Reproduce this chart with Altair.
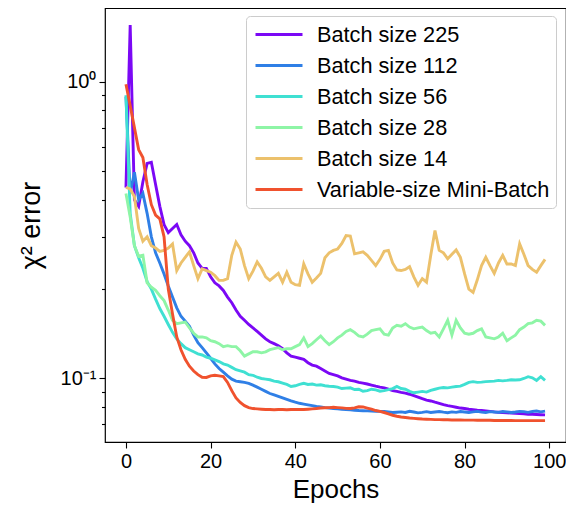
import altair as alt
import pandas as pd

series_names = ["Batch size 225", "Batch size 112", "Batch size 56",
                "Batch size 28", "Batch size 14", "Variable-size Mini-Batch"]
series_colors = ["#7b08f5", "#2f7fe6", "#3fe0d2", "#8ef5a6", "#ecc16c", "#f0522e"]

bs225 = [0.44, 1.55, 0.40, 0.38, 0.46, 0.53, 0.535, 0.45, 0.38, 0.33,
         0.31, 0.32, 0.33, 0.305, 0.29, 0.28, 0.265, 0.245, 0.235, 0.235,
         0.22, 0.21, 0.205, 0.198, 0.188, 0.18, 0.17, 0.162, 0.157, 0.152,
         0.148, 0.144, 0.14, 0.136, 0.133, 0.131, 0.129, 0.126, 0.122, 0.119,
         0.118, 0.117, 0.116, 0.113, 0.111, 0.110, 0.108, 0.106, 0.104, 0.103,
         0.102, 0.1005, 0.0995, 0.0985, 0.098, 0.097, 0.0965, 0.0958, 0.095, 0.0942,
         0.0935, 0.093, 0.092, 0.091, 0.0905, 0.0898, 0.0893, 0.0885, 0.0875, 0.0865,
         0.0855, 0.0846, 0.084, 0.0832, 0.0825, 0.0816, 0.081, 0.0805, 0.08, 0.0795,
         0.0792, 0.0788, 0.0785, 0.0782, 0.078, 0.0778, 0.0775, 0.0772, 0.077, 0.0768,
         0.0766, 0.0765, 0.0763, 0.0762, 0.076, 0.0758, 0.0757, 0.0756, 0.0755, 0.0754]

bs112 = [0.89, 0.42, 0.495, 0.40, 0.42, 0.36, 0.30, 0.265, 0.245, 0.225,
         0.205, 0.188, 0.173, 0.162, 0.156, 0.150, 0.140, 0.132, 0.127, 0.122,
         0.117, 0.112, 0.108, 0.105, 0.102, 0.0995, 0.098, 0.0975, 0.097, 0.0963,
         0.095, 0.0935, 0.092, 0.0905, 0.089, 0.088, 0.087, 0.086, 0.085, 0.084,
         0.0832, 0.0825, 0.082, 0.0815, 0.081, 0.0805, 0.0802, 0.0798, 0.0795, 0.0792,
         0.079, 0.0788, 0.0786, 0.0784, 0.0782, 0.078, 0.0779, 0.0778, 0.0777, 0.0776,
         0.0775, 0.0774, 0.0772, 0.0768, 0.077, 0.0772, 0.0768, 0.0775, 0.0771, 0.0766,
         0.0769, 0.0773, 0.0768, 0.0771, 0.0774, 0.077, 0.0767, 0.0772, 0.0769, 0.0774,
         0.0771, 0.0768, 0.0772, 0.0775, 0.077, 0.0768, 0.0773, 0.0771, 0.0769, 0.0774,
         0.0772, 0.0768, 0.0771, 0.0775, 0.0773, 0.0769, 0.0774, 0.0777, 0.0772, 0.0776]

bs56 = [0.90, 0.36, 0.28, 0.255, 0.235, 0.212, 0.20, 0.185, 0.172, 0.162,
        0.152, 0.143, 0.136, 0.131, 0.127, 0.125, 0.123, 0.121, 0.12, 0.118,
        0.117, 0.1155, 0.114, 0.112, 0.111, 0.109, 0.107, 0.106, 0.105, 0.103,
        0.1025, 0.101, 0.1, 0.0995, 0.099, 0.098, 0.0975, 0.0965, 0.0955, 0.094,
        0.0945, 0.0955, 0.0963, 0.0955, 0.0958, 0.095, 0.0952, 0.0945, 0.0942, 0.094,
        0.0935, 0.0925, 0.0928, 0.093, 0.0918, 0.092, 0.0906, 0.091, 0.092, 0.0915,
        0.0906, 0.091, 0.0917, 0.0925, 0.094, 0.0925, 0.092, 0.0905, 0.0895, 0.09,
        0.0905, 0.09, 0.0912, 0.092, 0.0928, 0.0932, 0.093, 0.0935, 0.094, 0.0942,
        0.0955, 0.097, 0.0976, 0.097, 0.0972, 0.0976, 0.0978, 0.098, 0.0985, 0.0982,
        0.0985, 0.099, 0.0988, 0.099, 0.1, 0.1014, 0.1005, 0.0985, 0.1014, 0.0985]

bs28 = [0.42, 0.35, 0.28, 0.258, 0.26, 0.21, 0.203, 0.198, 0.19, 0.183,
        0.17, 0.157, 0.153, 0.154, 0.155, 0.148, 0.142, 0.138, 0.138, 0.137,
        0.134, 0.133, 0.131, 0.128, 0.129, 0.128, 0.128, 0.124, 0.119, 0.121,
        0.123, 0.123, 0.122, 0.123, 0.125, 0.126, 0.127, 0.125, 0.126, 0.126,
        0.128, 0.130, 0.137, 0.128, 0.131, 0.135, 0.139, 0.134, 0.13, 0.133,
        0.137, 0.140, 0.144, 0.146, 0.143, 0.139, 0.138, 0.141, 0.145, 0.146,
        0.147, 0.141, 0.14, 0.148, 0.151, 0.150, 0.153, 0.149, 0.147, 0.148,
        0.149, 0.145, 0.142, 0.143, 0.138, 0.147, 0.157, 0.14, 0.157, 0.148,
        0.142, 0.141, 0.142, 0.145, 0.147, 0.138, 0.137, 0.136, 0.138, 0.142,
        0.134, 0.137, 0.14, 0.146, 0.149, 0.153, 0.154, 0.157, 0.156, 0.151]

bs14 = [0.44, 0.435, 0.41, 0.32, 0.29, 0.30, 0.28, 0.275, 0.268, 0.27,
        0.275, 0.284, 0.231, 0.245, 0.256, 0.267, 0.24, 0.217, 0.234, 0.231,
        0.228, 0.222, 0.214, 0.214, 0.217, 0.26, 0.288, 0.273, 0.24, 0.217,
        0.23, 0.247, 0.235, 0.22, 0.214, 0.22, 0.226, 0.211, 0.228, 0.211,
        0.207, 0.206, 0.243, 0.225, 0.211, 0.218, 0.226, 0.255, 0.265, 0.27,
        0.273, 0.285, 0.303, 0.302, 0.263, 0.265, 0.267, 0.26, 0.25, 0.24,
        0.252, 0.268, 0.27, 0.245, 0.232, 0.231, 0.233, 0.238, 0.22, 0.206,
        0.217, 0.211, 0.26, 0.315, 0.27, 0.265, 0.253, 0.262, 0.271, 0.256,
        0.225, 0.2, 0.195, 0.215, 0.24, 0.256, 0.24, 0.226, 0.245, 0.26,
        0.243, 0.243, 0.24, 0.284, 0.262, 0.24, 0.233, 0.228, 0.24, 0.252]

variable = [0.98, 0.83, 0.70, 0.59, 0.555, 0.45, 0.385, 0.355, 0.345, 0.30,
            0.20, 0.165, 0.138, 0.125, 0.116, 0.110, 0.106, 0.103, 0.101, 0.1008,
            0.102, 0.1025, 0.102, 0.1015, 0.097, 0.091, 0.086, 0.083, 0.081, 0.0798,
            0.0792, 0.079, 0.0788, 0.0786, 0.0786, 0.0785, 0.0786, 0.0786, 0.0785, 0.0786,
            0.0786, 0.0787, 0.0786, 0.0788, 0.079, 0.0792, 0.0795, 0.0797, 0.0798, 0.080,
            0.0798, 0.0796, 0.0793, 0.0792, 0.0796, 0.0803, 0.0802, 0.0795, 0.0788, 0.078,
            0.0775, 0.0768, 0.076, 0.0752, 0.0746, 0.0742, 0.0739, 0.0736, 0.0734, 0.0732,
            0.073, 0.0729, 0.0728, 0.0727, 0.0727, 0.0726, 0.0726, 0.0725, 0.0725, 0.0725,
            0.0724, 0.0724, 0.0724, 0.0723, 0.0723, 0.0723, 0.0723, 0.0722, 0.0722, 0.0722,
            0.0722, 0.0722, 0.0721, 0.0721, 0.0721, 0.0721, 0.0721, 0.0721, 0.0721, 0.0721]

x_ticks = [0, 20, 40, 60, 80, 100]
y_ticks = [0.07, 0.08, 0.09, 0.1, 0.2, 0.3, 0.4, 0.5, 0.6, 0.7, 0.8, 0.9, 1.0]

rows = []
for name, vals in zip(series_names, [bs225, bs112, bs56, bs28, bs14, variable]):
    for i, v in enumerate(vals):
        rows.append({"epoch": i, "error": v, "series": name})
df = pd.DataFrame(rows)

FONT = "Liberation Sans"

base = alt.Chart(df).mark_line(strokeWidth=2.9, clip=True).encode(
    x=alt.X("epoch:Q",
            scale=alt.Scale(domain=[-4.95, 103.95], nice=False, zero=False),
            axis=alt.Axis(values=x_ticks, title="Epochs", format="d",
                          tickSize=6, labelPadding=3, titlePadding=5,
                          titleFontSize=26)),
    y=alt.Y("error:Q",
            scale=alt.Scale(type="log", domain=[0.0611, 1.77], nice=False),
            axis=alt.Axis(values=y_ticks, title="χ² error",
                          labelExpr="datum.value === 1 ? '10⁰' : (datum.value === 0.1 ? '10⁻¹' : '')",
                          tickSize={"condition": {"test": "datum.value === 1 || datum.value === 0.1", "value": 6},
                                    "value": 3.5},
                          labelPadding=3, titlePadding=15, titleFontSize=27)),
    color=alt.Color("series:N",
                    scale=alt.Scale(domain=series_names, range=series_colors),
                    sort=series_names,
                    legend=alt.Legend(title=None, orient="none", legendX=141, legendY=8)),
)

layers = [base.transform_filter(alt.datum.series == n) for n in series_names]

chart = alt.layer(*layers).properties(
    width=461, height=434,
    padding={"left": 97, "top": 0, "right": 0, "bottom": 67},
    autosize=alt.AutoSizeParams(type="none"),
).configure_view(
    stroke="black", strokeWidth=1.2
).configure_axis(
    domain=False, grid=False, tickColor="black", tickWidth=1.1,
    labelFont=FONT, labelFontSize=20, labelColor="black",
    titleFont=FONT, titleColor="black", titleFontWeight="normal",
    labelFlush=False
).configure_legend(
    labelFont=FONT, labelFontSize=21.7, labelColor="black", labelLimit=0,
    symbolType="M-2.136,0H2.136", symbolStrokeWidth=3, symbolSize=484,
    symbolOffset=14.5, labelOffset=25.5, rowPadding=6, padding=6,
    fillColor="white", strokeColor="#cccccc", cornerRadius=4,
)

chart.save("out.html", embed_options={"renderer": "svg", "actions": False})
